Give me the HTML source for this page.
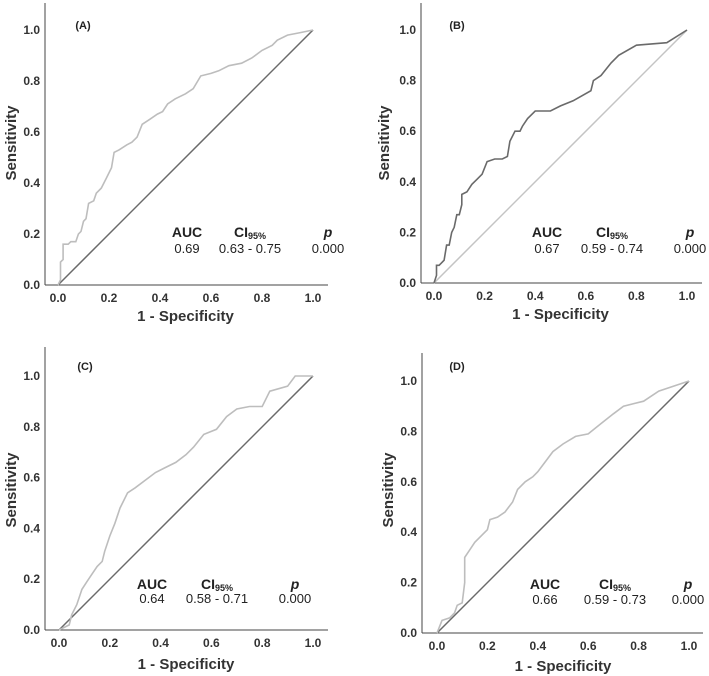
<!DOCTYPE html>
<html><head><meta charset="utf-8"><style>
html,body{margin:0;padding:0;background:#fff}
svg{display:block;font-family:"Liberation Sans",sans-serif}
</style></head><body>
<svg id="fig" width="709" height="676" viewBox="0 0 709 676"></svg>
<script>
const ticks=[0,0.2,0.4,0.6,0.8,1.0];
const tickLabels=["0.0","0.2","0.4","0.6","0.8","1.0"];
const fprA=[0,0.01,0.01,0.02,0.02,0.04,0.05,0.07,0.08,0.09,0.1,0.11,0.12,0.14,0.15,0.17,0.19,0.21,0.22,0.24,0.27,0.29,0.31,0.33,0.36,0.39,0.41,0.43,0.46,0.5,0.53,0.56,0.6,0.63,0.67,0.72,0.76,0.8,0.84,0.86,0.9,0.95,1];
const tprA=[0,0.02,0.09,0.1,0.16,0.16,0.17,0.17,0.2,0.21,0.25,0.26,0.32,0.33,0.36,0.38,0.42,0.46,0.52,0.53,0.55,0.56,0.58,0.63,0.65,0.67,0.68,0.71,0.73,0.75,0.77,0.82,0.83,0.84,0.86,0.87,0.89,0.92,0.94,0.96,0.98,0.99,1];
const fprB=[0,0.01,0.01,0.02,0.03,0.04,0.05,0.06,0.07,0.08,0.09,0.1,0.11,0.11,0.13,0.15,0.17,0.19,0.21,0.24,0.27,0.29,0.3,0.32,0.34,0.35,0.37,0.4,0.46,0.5,0.55,0.62,0.63,0.66,0.7,0.73,0.8,0.92,1];
const tprB=[0,0.03,0.07,0.07,0.08,0.09,0.15,0.15,0.2,0.22,0.27,0.27,0.31,0.35,0.36,0.39,0.41,0.43,0.48,0.49,0.49,0.5,0.56,0.6,0.6,0.62,0.65,0.68,0.68,0.7,0.72,0.76,0.8,0.82,0.87,0.9,0.94,0.95,1];
const fprC=[0,0.04,0.05,0.07,0.09,0.11,0.13,0.15,0.17,0.18,0.2,0.22,0.24,0.27,0.3,0.34,0.38,0.42,0.46,0.5,0.53,0.57,0.62,0.66,0.7,0.75,0.8,0.83,0.9,0.93,1];
const tprC=[0,0.02,0.06,0.1,0.16,0.19,0.22,0.25,0.27,0.31,0.37,0.42,0.48,0.54,0.56,0.59,0.62,0.64,0.66,0.69,0.72,0.77,0.79,0.84,0.87,0.88,0.88,0.94,0.96,1,1];
const fprD=[0,0.02,0.05,0.07,0.08,0.1,0.11,0.11,0.13,0.15,0.18,0.2,0.21,0.24,0.27,0.3,0.32,0.35,0.38,0.4,0.43,0.46,0.5,0.55,0.6,0.65,0.7,0.74,0.82,0.88,1];
const tprD=[0,0.05,0.06,0.08,0.11,0.12,0.2,0.3,0.33,0.36,0.39,0.41,0.45,0.46,0.48,0.52,0.57,0.6,0.62,0.64,0.68,0.72,0.75,0.78,0.79,0.83,0.87,0.9,0.92,0.96,1];
const aucVals=["0.69","0.67","0.64","0.66"];
const ciVals=["0.63 - 0.75","0.59 - 0.74","0.58 - 0.71","0.59 - 0.73"];
const pVals=["0.000","0.000","0.000","0.000"];

const NS="http://www.w3.org/2000/svg";
const svg=document.getElementById('fig');
function mk(tag,attrs,parent,text){const e=document.createElementNS(NS,tag);for(const k in attrs)e.setAttribute(k,attrs[k]);if(text!==undefined)e.textContent=text;parent.appendChild(e);return e;}

const panels=[
 {id:'a',lab:'(A)',fpr:fprA,tpr:tprA,x0:58,x1:313,y0:285,y1:30,ax:45,top:3,right:328,curve:'#bdbdbd',diag:'#6a6a6a',labX:83,labY:29,xtY:321,sensX:10,sensY:143,st:[187,250,328],sy:[237,253]},
 {id:'b',lab:'(B)',fpr:fprB,tpr:tprB,x0:434,x1:687,y0:283,y1:30,ax:421,top:3,right:702,curve:'#6a6a6a',diag:'#c4c4c4',labX:457,labY:29,xtY:319,sensX:383,sensY:143,st:[547,612,690],sy:[237,253]},
 {id:'c',lab:'(C)',fpr:fprC,tpr:tprC,x0:59,x1:313,y0:630,y1:376,ax:45,top:347,right:328,curve:'#bdbdbd',diag:'#6a6a6a',labX:85,labY:370,xtY:669,sensX:10,sensY:490,st:[152,217,295],sy:[589,603]},
 {id:'d',lab:'(D)',fpr:fprD,tpr:tprD,x0:437,x1:689,y0:633,y1:381,ax:422,top:353,right:703,curve:'#bdbdbd',diag:'#6a6a6a',labX:457,labY:370,xtY:671,sensX:387,sensY:490,st:[545,615,688],sy:[589,604]}
];
panels.forEach((P,i)=>{
 const g=mk('g',{},svg);
 
 
 const X=v=>P.x0+v*(P.x1-P.x0), Y=v=>P.y0-v*(P.y0-P.y1);
 const ya=mk('line',{x1:P.ax,y1:P.top,x2:P.ax,y2:P.y0,stroke:'#444','stroke-width':1},g);
 
 const xa=mk('line',{x1:P.ax,y1:P.y0,x2:P.right,y2:P.y0,stroke:'#444','stroke-width':1},g);
 
 ticks.forEach((t,k)=>{
  const yl=mk('text',{x:P.ax-5,y:Y(t)+4,'text-anchor':'end','font-size':12,'font-weight':'bold',fill:'#333'},g,tickLabels[k]);
  
  const xl=mk('text',{x:X(t),y:P.y0+17,'text-anchor':'middle','font-size':12,'font-weight':'bold',fill:'#333'},g,tickLabels[k]);
  
 });
 const d=mk('line',{x1:X(0),y1:Y(0),x2:X(1),y2:Y(1),stroke:P.diag,'stroke-width':1.5},g);
 
 const pts=P.fpr.map((f,k)=>X(f).toFixed(1)+','+Y(P.tpr[k]).toFixed(1)).join(' ');
 const c=mk('polyline',{points:pts,fill:'none',stroke:P.curve,'stroke-width':1.6},g);
 
 const pl=mk('text',{x:P.labX,y:P.labY,'text-anchor':'middle','font-size':11,'font-weight':'bold',fill:'#222'},g,P.lab);
 
 const xt=mk('text',{x:(X(0)+X(1))/2,y:P.xtY,'text-anchor':'middle','font-size':15,'font-weight':'bold',fill:'#333'},g,'1 - Specificity');
 
 const yt=mk('text',{x:0,y:0,transform:`translate(${P.sensX+6},${P.sensY}) rotate(-90)`,'text-anchor':'middle','font-size':15,'font-weight':'bold',fill:'#333'},g,'Sensitivity');
 
 const h1=mk('text',{x:P.st[0],y:P.sy[0],'text-anchor':'middle','font-size':14,'font-weight':'bold',fill:'#222'},g,'AUC');
 
 const h2=mk('text',{x:P.st[1],y:P.sy[0],'text-anchor':'middle','font-size':14,'font-weight':'bold',fill:'#222'},g);
 
 mk('tspan',{},h2,'CI');mk('tspan',{'font-size':9,dy:2},h2,'95%');
 const h3=mk('text',{x:P.st[2],y:P.sy[0],'text-anchor':'middle','font-size':14,'font-weight':'bold','font-style':'italic',fill:'#222'},g,'p');
 
 const v1=mk('text',{x:P.st[0],y:P.sy[1],'text-anchor':'middle','font-size':13,fill:'#222'},g,aucVals[i]);
 
 const v2=mk('text',{x:P.st[1],y:P.sy[1],'text-anchor':'middle','font-size':13,fill:'#222'},g,ciVals[i]);
 
 const v3=mk('text',{x:P.st[2],y:P.sy[1],'text-anchor':'middle','font-size':13,fill:'#222'},g,pVals[i]);
 
});
</script>
</body></html>
